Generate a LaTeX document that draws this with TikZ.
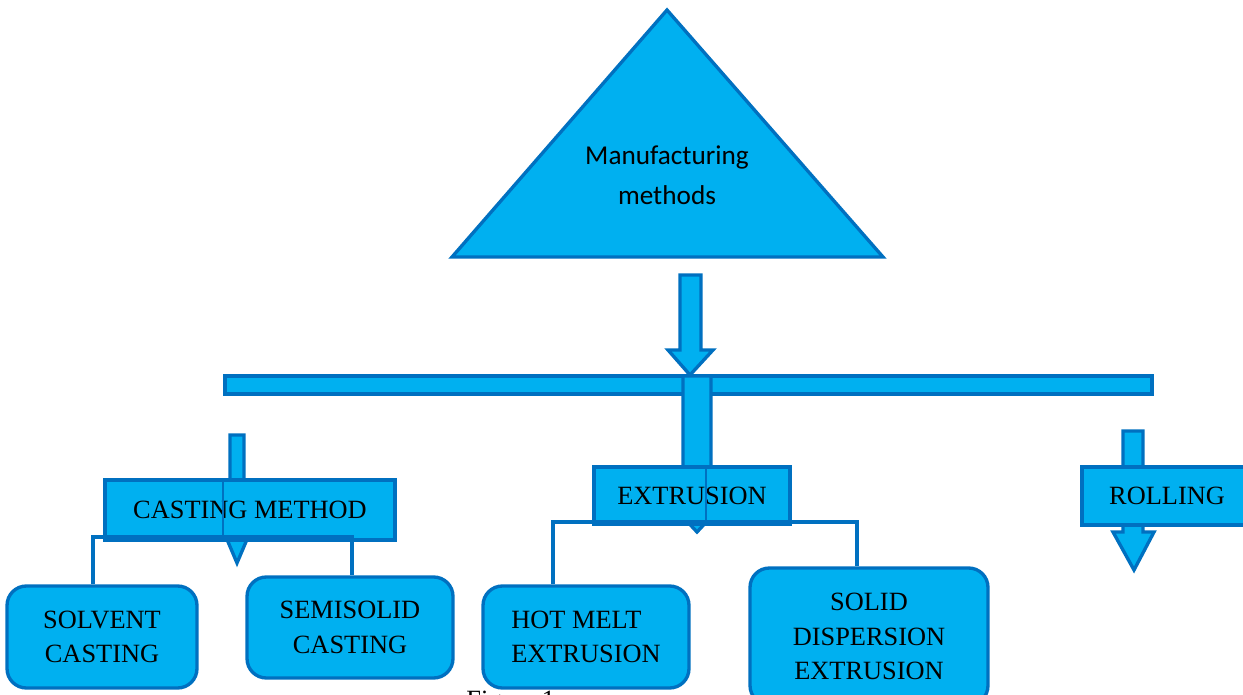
\documentclass[tikz,border=0pt]{standalone}
\usepackage{fontspec}
\setmainfont{Liberation Serif}
\newfontfamily\calibrifont{Carlito}
\usetikzlibrary{calc}
\definecolor{fillblue}{HTML}{00B0F0}
\definecolor{edgeblue}{HTML}{0070C0}
\tikzset{
  blue shape/.style={fill=fillblue, draw=edgeblue, line width=1.9pt, line join=miter},
  catbox/.style={blue shape, rectangle, inner sep=0pt,
    font=\fontsize{15}{19.6}\selectfont, align=center},
  leafbox/.style={catbox, rounded corners=11pt},
  link/.style={draw=edgeblue, line width=2pt},
}
\begin{document}
\begin{tikzpicture}[x=0.02cm, y=-0.02cm]
\useasboundingbox (0,0) rectangle (1243,695);

% apex triangle
\coordinate (apex) at (667,10);
\coordinate (baseL) at (452,257);
\coordinate (baseR) at (883,257);
\draw[blue shape] (apex) -- (baseR) -- (baseL) -- cycle;
\node[font=\calibrifont\fontsize{15.5}{22.7}\selectfont, align=center] (top) at (667,175) {Manufacturing\\methods};

% block arrow from the triangle down to the bar
\draw[blue shape] (680,275) -- (701,275) -- (701,350) -- (713,350) -- (690,375)
  -- (668,350) -- (680,350) -- cycle;

% distribution bar
\draw[blue shape] (225,376) rectangle (1152,394);

% block arrows feeding the three categories
\draw[blue shape] (683,376) -- (711,376) -- (711,517) -- (697,532) -- (683,517) -- cycle;
\draw[blue shape] (230,435) -- (244,435) -- (244,530) -- (251,530) -- (237,563)
  -- (223,530) -- (230,530) -- cycle;
\draw[blue shape] (1123,431) -- (1143,431) -- (1143,532) -- (1154,532) -- (1134,570)
  -- (1113,532) -- (1123,532) -- cycle;

% categories
\node[catbox, minimum width=5.8cm, minimum height=1.2cm] (cast) at (250,510) {CASTING METHOD};
\node[catbox, minimum width=3.92cm, minimum height=1.14cm] (extr) at (692,495.5) {EXTRUSION};
\node[catbox, minimum width=3.4cm, minimum height=1.16cm] (roll) at (1167,496) {ROLLING};

% arrow edges showing through the category boxes
\draw[link, line width=1.5pt] ($(cast.north)+(-27,0)$) -- ($(cast.south)+(-27,0)$);
\draw[link, line width=1.5pt] ($(extr.north)+(14,0)$) -- ($(extr.south)+(14,0)$);

% methods
\node[leafbox, minimum width=3.8cm, minimum height=2.04cm] (solv) at (102,637) {SOLVENT\\CASTING};
\node[leafbox, minimum width=4.12cm, minimum height=2.02cm] (semi) at (350,627.5) {SEMISOLID\\CASTING};
\node[leafbox, minimum width=4.12cm, minimum height=2.04cm, align=left] (hot) at (586,637) {HOT MELT\\EXTRUSION};
\node[leafbox, minimum width=4.76cm, minimum height=2.74cm] (solid) at (869,636.5) {SOLID\\DISPERSION\\EXTRUSION};

% elbow connectors
\coordinate (cj1) at (93,537);
\coordinate (cj2) at (352,537);
\draw[link] (solv.north -| cj1) -- (cj1) -- (cj2) -- (semi.north -| cj2);
\coordinate (ej1) at (553,522);
\coordinate (ej2) at (857,522);
\draw[link] (hot.north -| ej1) -- (ej1) -- (ej2) -- (solid.north -| ej2);

% caption, cut by the lower edge
\begin{scope}
  \clip (0,0) rectangle (1243,695);
  \node[anchor=north west, inner sep=0pt, font=\fontsize{15}{18}\selectfont] (cap) at (466,691) {Figure 1};
\end{scope}
\end{tikzpicture}
\end{document}
